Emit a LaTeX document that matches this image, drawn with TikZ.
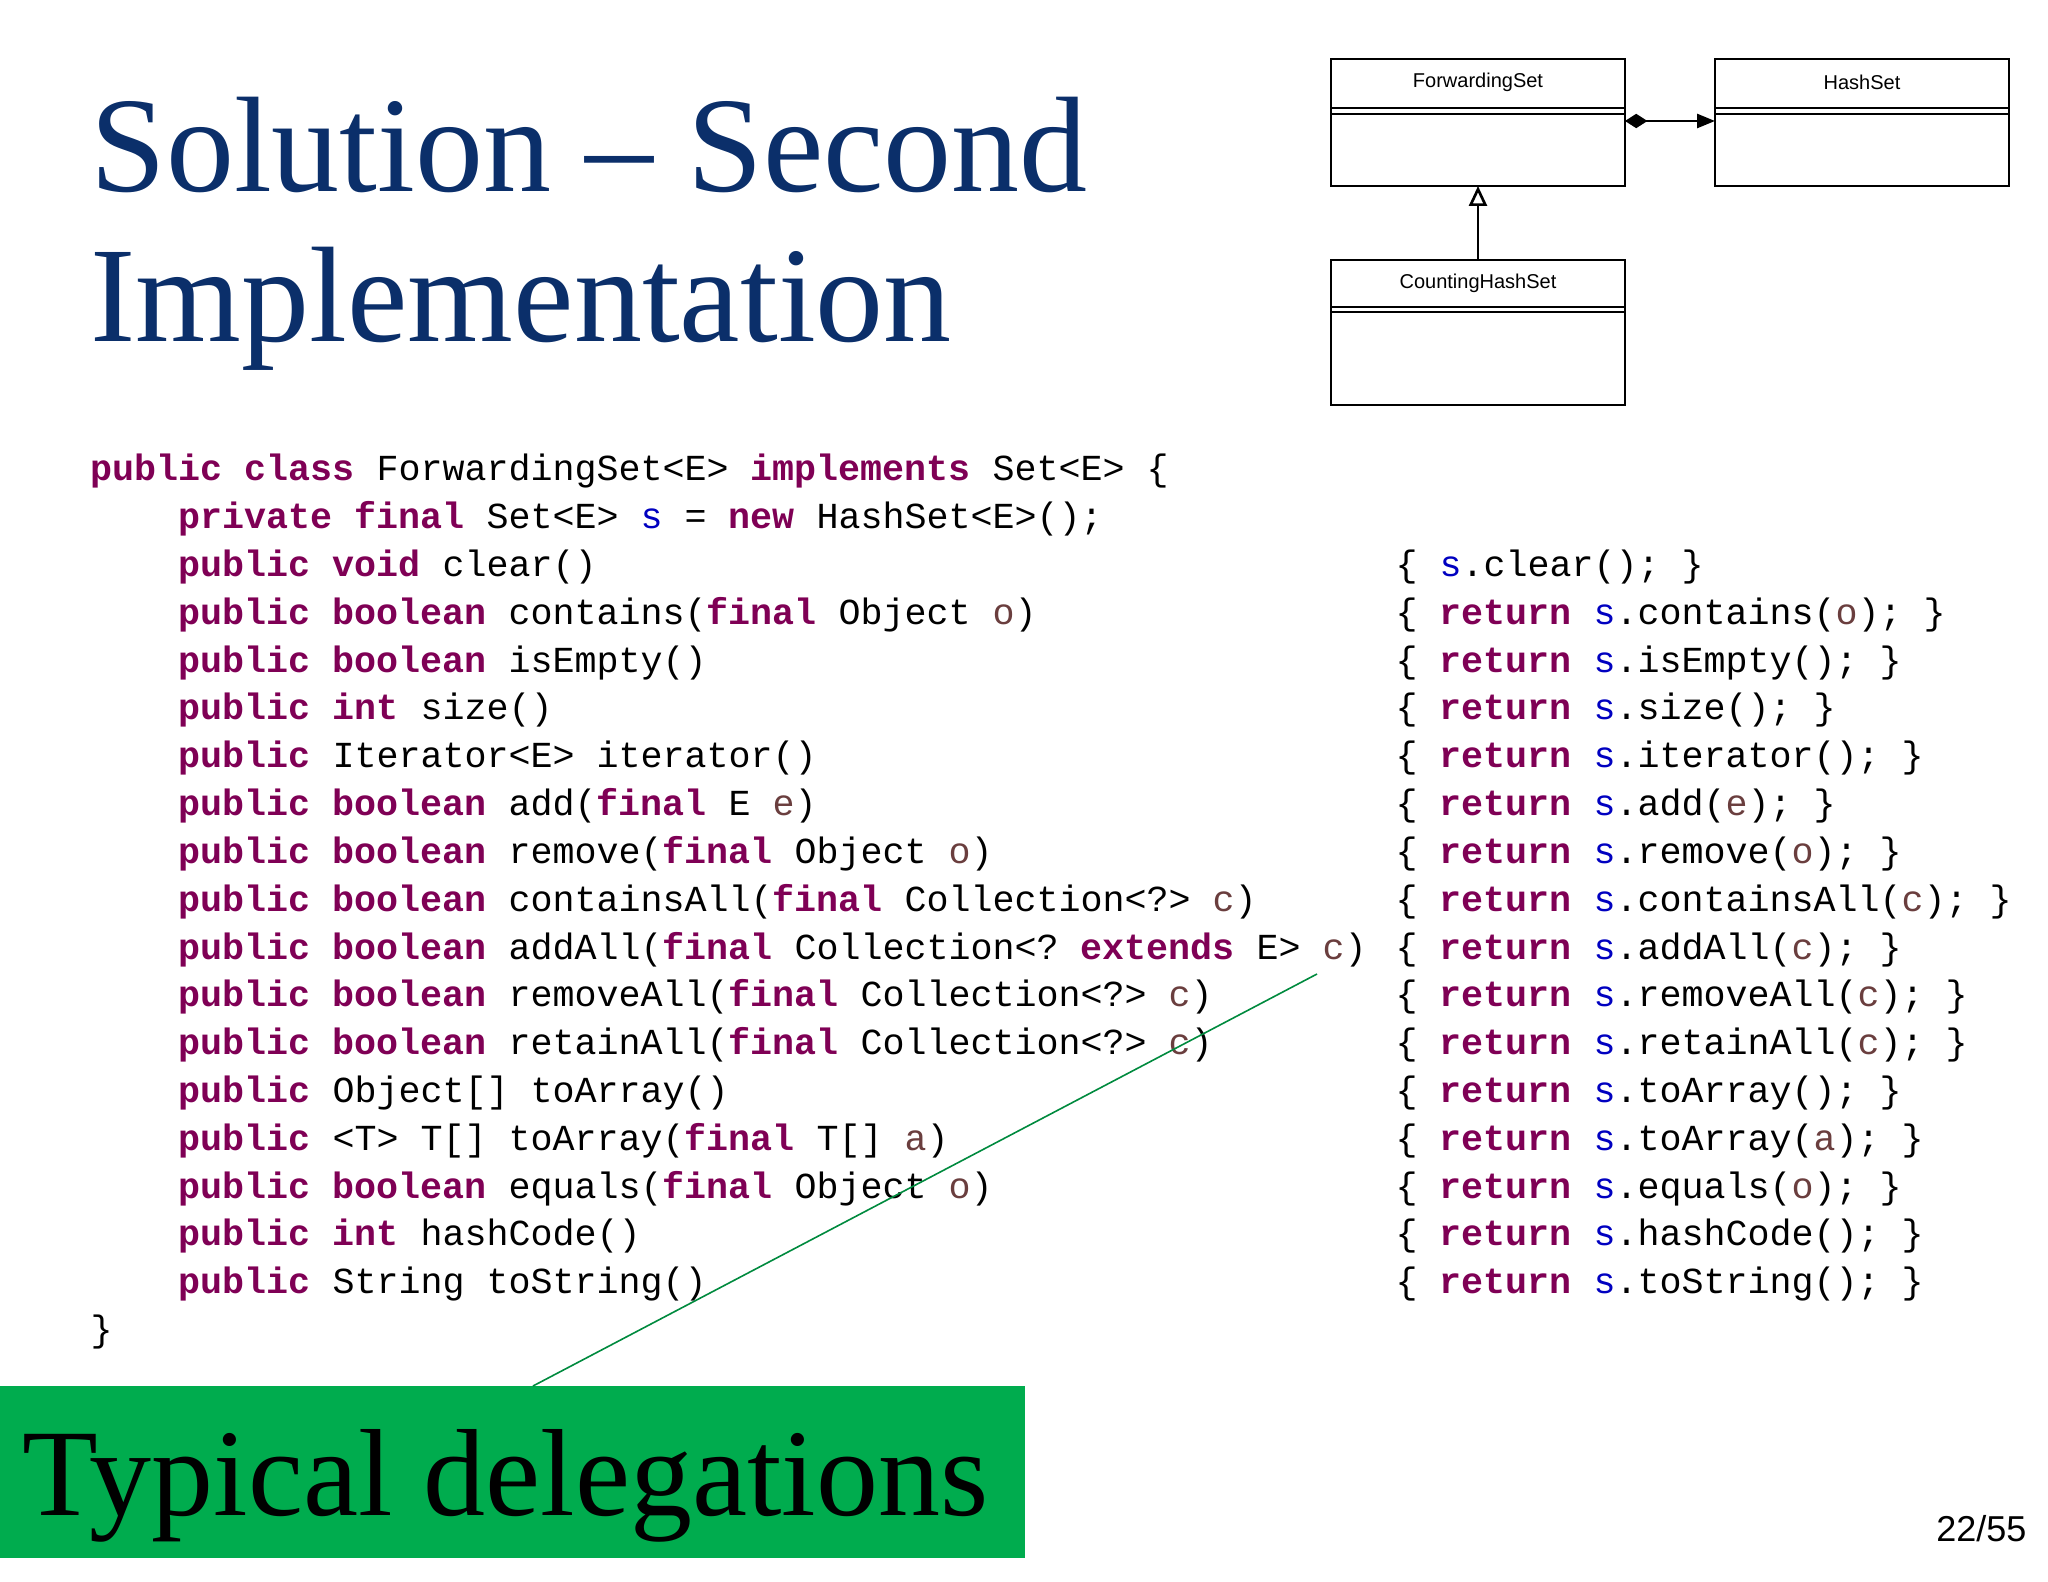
\documentclass[tikz,border=0pt]{standalone}
\usepackage{fontspec}
\setmainfont{Liberation Serif}
\setmonofont{Liberation Mono}
\newfontfamily\uml{Liberation Sans}
\usetikzlibrary{arrows.meta}
\definecolor{kwc}{HTML}{7F0055}
\definecolor{svc}{HTML}{0000C0}
\definecolor{pvc}{HTML}{6A3E3E}
\definecolor{titlec}{HTML}{0B2F6A}
\definecolor{boxg}{HTML}{00AC4E}
\newcommand{\kw}[1]{\textcolor{kwc}{\textbf{#1}}}
\newcommand{\sv}{\textcolor{svc}{s}}
\newcommand{\pv}[1]{\textcolor{pvc}{#1}}
\begin{document}
\begin{tikzpicture}[x=0.375pt,y=-0.375pt,
  code/.style={anchor=base west,inner sep=0,font=\ttfamily\fontsize{13.75pt}{16pt}\selectfont},
  cls/.style={draw,line width=1pt,minimum width=294*0.375pt,inner sep=0},
  umltxt/.style={font=\uml\fontsize{7.5pt}{9pt}\selectfont}]
\useasboundingbox (0,0) rectangle (2048,1582);
% title
\node[anchor=base west,inner sep=0,text=titlec,font=\fontsize{51pt}{60pt}\selectfont] (t1) at (90,192) {Solution – Second};
\node[anchor=base west,inner sep=0,text=titlec,font=\fontsize{51pt}{60pt}\selectfont] (t2) at (90,342) {Implementation};
% UML
\draw[line width=1pt] (1331,59) rectangle (1625,186);
\draw[line width=1pt] (1331,108) -- (1625,108) (1331,114) -- (1625,114);
\node[umltxt] (fs) at (1478,82) {ForwardingSet};
\draw[line width=1pt] (1715,59) rectangle (2009,186);
\draw[line width=1pt] (1715,108) -- (2009,108) (1715,114) -- (2009,114);
\node[umltxt] (hs) at (1862,82) {HashSet};
\draw[line width=1pt] (1331,260) rectangle (1625,405);
\draw[line width=1pt] (1331,307) -- (1625,307) (1331,312) -- (1625,312);
\node[umltxt] (chs) at (1478,283) {CountingHashSet};
\coordinate (fsR) at (1625,121);
\coordinate (hsL) at (1715,121);
\coordinate (fsB) at (1478,186);
\coordinate (chsT) at (1478,260);
\draw[line width=1pt,{Diamond[length=14pt*0.375*1.6,width=9pt*0.375*1.6]}-{Triangle[length=18*0.375pt,width=14*0.375pt]}] (fsR) -- (hsL);
\draw[line width=1pt,-{Triangle[open,length=20*0.375pt,width=18*0.375pt]}] (chsT) -- (fsB);
% code
\node[code] (c0) at (90,481) {\kw{public} \kw{class} ForwardingSet<E> \kw{implements} Set<E> \{};
\node[code] (c1) at (178,528.8) {\kw{private} \kw{final} Set<E> \sv{} = \kw{new} HashSet<E>();};
\node[code] (c2) at (178,576.6) {\kw{public} \kw{void} clear()};
\node[code] (c3) at (178,624.4) {\kw{public} \kw{boolean} contains(\kw{final} Object \pv{o})};
\node[code] (c4) at (178,672.2) {\kw{public} \kw{boolean} isEmpty()};
\node[code] (c5) at (178,720) {\kw{public} \kw{int} size()};
\node[code] (c6) at (178,767.8) {\kw{public} Iterator<E> iterator()};
\node[code] (c7) at (178,815.6) {\kw{public} \kw{boolean} add(\kw{final} E \pv{e})};
\node[code] (c8) at (178,863.4) {\kw{public} \kw{boolean} remove(\kw{final} Object \pv{o})};
\node[code] (c9) at (178,911.2) {\kw{public} \kw{boolean} containsAll(\kw{final} Collection<?> \pv{c})};
\node[code] (c10) at (178,959) {\kw{public} \kw{boolean} addAll(\kw{final} Collection<? \kw{extends} E> \pv{c})};
\node[code] (c11) at (178,1006.8) {\kw{public} \kw{boolean} removeAll(\kw{final} Collection<?> \pv{c})};
\node[code] (c12) at (178,1054.6) {\kw{public} \kw{boolean} retainAll(\kw{final} Collection<?> \pv{c})};
\node[code] (c13) at (178,1102.4) {\kw{public} Object[] toArray()};
\node[code] (c14) at (178,1150.2) {\kw{public} <T> T[] toArray(\kw{final} T[] \pv{a})};
\node[code] (c15) at (178,1198) {\kw{public} \kw{boolean} equals(\kw{final} Object \pv{o})};
\node[code] (c16) at (178,1245.8) {\kw{public} \kw{int} hashCode()};
\node[code] (c17) at (178,1293.6) {\kw{public} String toString()};
\node[code] (c18) at (90,1341.4) {\}};
\node[code] (r2) at (1395,576.6) {\{ \sv.clear(); \}};
\node[code] (r3) at (1395,624.4) {\{ \kw{return} \sv.contains(\pv{o}); \}};
\node[code] (r4) at (1395,672.2) {\{ \kw{return} \sv.isEmpty(); \}};
\node[code] (r5) at (1395,720) {\{ \kw{return} \sv.size(); \}};
\node[code] (r6) at (1395,767.8) {\{ \kw{return} \sv.iterator(); \}};
\node[code] (r7) at (1395,815.6) {\{ \kw{return} \sv.add(\pv{e}); \}};
\node[code] (r8) at (1395,863.4) {\{ \kw{return} \sv.remove(\pv{o}); \}};
\node[code] (r9) at (1395,911.2) {\{ \kw{return} \sv.containsAll(\pv{c}); \}};
\node[code] (r10) at (1395,959) {\{ \kw{return} \sv.addAll(\pv{c}); \}};
\node[code] (r11) at (1395,1006.8) {\{ \kw{return} \sv.removeAll(\pv{c}); \}};
\node[code] (r12) at (1395,1054.6) {\{ \kw{return} \sv.retainAll(\pv{c}); \}};
\node[code] (r13) at (1395,1102.4) {\{ \kw{return} \sv.toArray(); \}};
\node[code] (r14) at (1395,1150.2) {\{ \kw{return} \sv.toArray(\pv{a}); \}};
\node[code] (r15) at (1395,1198) {\{ \kw{return} \sv.equals(\pv{o}); \}};
\node[code] (r16) at (1395,1245.8) {\{ \kw{return} \sv.hashCode(); \}};
\node[code] (r17) at (1395,1293.6) {\{ \kw{return} \sv.toString(); \}};
% green box
\fill[boxg] (0,1386) rectangle (1025,1558);
\node[anchor=base west,inner sep=0,font=\fontsize{46.5pt}{54pt}\selectfont] (td) at (22,1515) {Typical delegations};
\coordinate (gA) at (533,1386);
\coordinate (gB) at (1317,974);
\draw[boxg!80!black,line width=0.6pt] (gA) -- (gB);
% page number
\node[anchor=base east,inner sep=0,font=\uml\fontsize{13.5pt}{16pt}\selectfont] (pg) at (2027,1541) {22/55};
\end{tikzpicture}
\end{document}
